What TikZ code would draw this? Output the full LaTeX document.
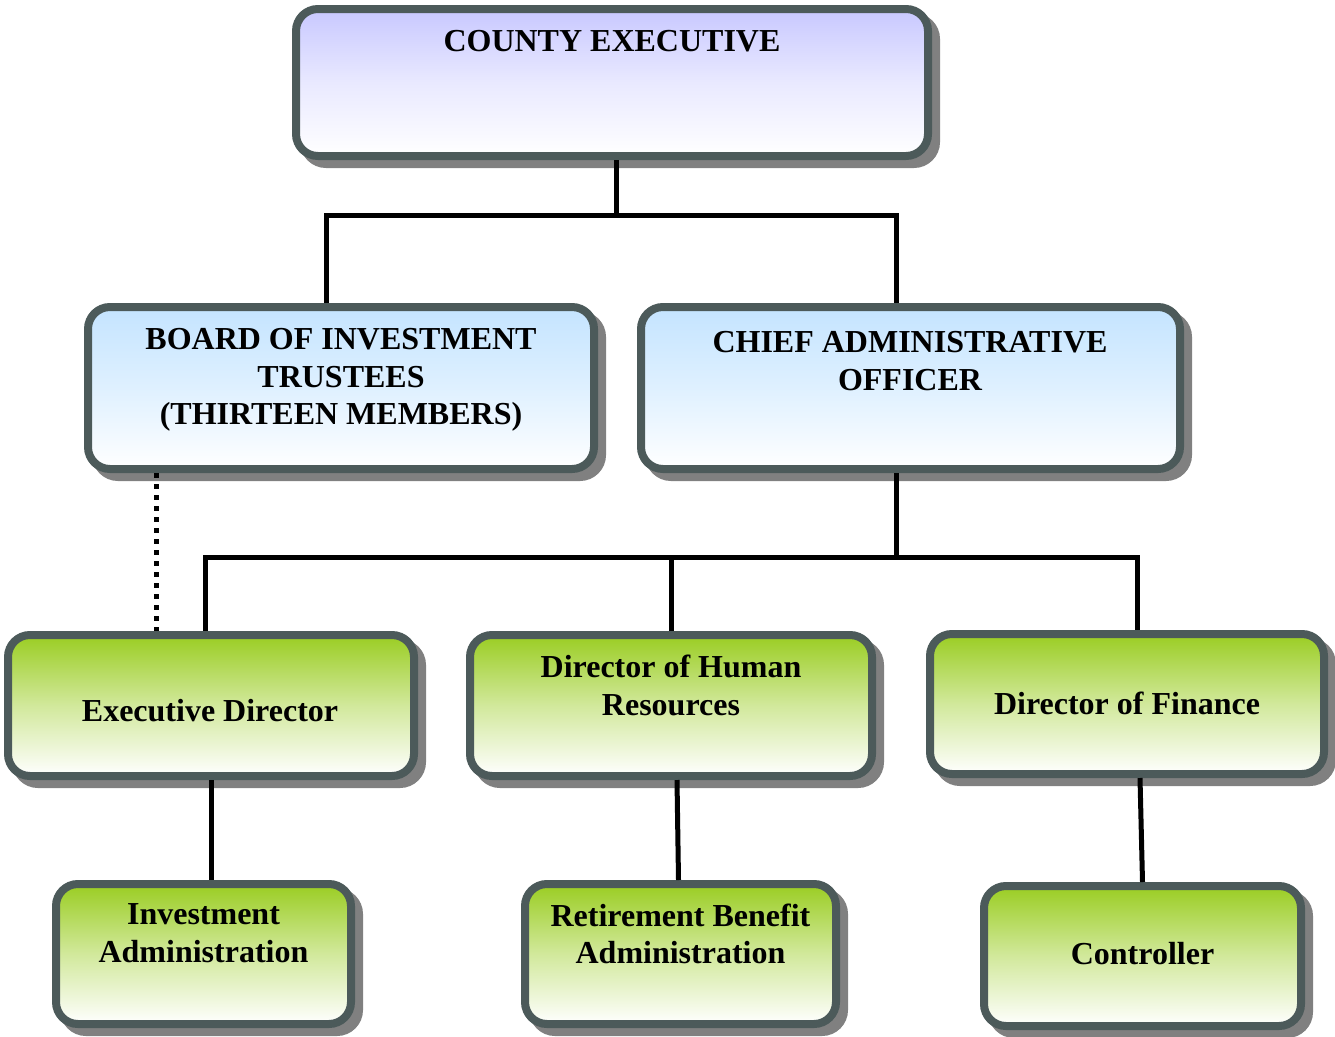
\documentclass[tikz,border=0pt]{standalone}
\usepackage{fontspec}
\setmainfont{Liberation Serif}
\usetikzlibrary{shadows,calc}
\definecolor{bordc}{HTML}{4C5A5A}
\definecolor{shadc}{HTML}{808080}
\definecolor{topblue}{HTML}{C8C8FF}
\definecolor{ltblue}{HTML}{C4E4FF}
\definecolor{topgreen}{HTML}{9ACD22}
\tikzset{
  box/.style={draw=bordc, line width=8pt, rounded corners=22pt, inner sep=0pt,
    drop shadow={shadow xshift=8pt, shadow yshift=-8pt, fill=shadc, draw=shadc, line width=8pt, opacity=1}},
  cebox/.style={box, top color=topblue, bottom color=white, middle color=topblue!40!white},
  bluebox/.style={box, top color=ltblue, bottom color=white, middle color=ltblue!55!white},
  greenbox/.style={box, top color=topgreen, bottom color=white, middle color=topgreen!45!white},
  txt/.style={font=\bfseries\fontsize{32}{37.5}\selectfont, align=center, inner sep=0pt},
  conn/.style={line width=5pt, black},
  dotconn/.style={line width=5pt, black, dash pattern=on 5pt off 6pt}
}
\begin{document}
\begin{tikzpicture}[x=1pt,y=-1pt]
\useasboundingbox (0,0) rectangle (1335,1036);
% boxes
\node[cebox, minimum width=632pt, minimum height=147pt] (ce) at (612,82.5) {};
\node[bluebox, minimum width=506pt, minimum height=162pt] (boi) at (341,388) {};
\node[bluebox, minimum width=539pt, minimum height=162pt] (cao) at (910.5,388) {};
\node[greenbox, minimum width=406pt, minimum height=141pt] (ed) at (211,705.5) {};
\node[greenbox, minimum width=402pt, minimum height=141pt] (hr) at (671,705.5) {};
\node[greenbox, minimum width=394pt, minimum height=140pt] (fin) at (1127,704) {};
\node[greenbox, minimum width=295pt, minimum height=140pt] (inv) at (203.5,954) {};
\node[greenbox, minimum width=311pt, minimum height=140pt] (ret) at (680.5,954) {};
\node[greenbox, minimum width=317pt, minimum height=140pt] (ctl) at (1142.5,956) {};
% texts
\node[txt] (tce) at ([yshift=-36pt]ce.north) {COUNTY EXECUTIVE};
\node[txt] (tboi) at ([yshift=8pt]boi.center) {BOARD OF INVESTMENT\\TRUSTEES\\(THIRTEEN MEMBERS)};
\node[txt] (tcao) at ([yshift=27pt,xshift=-0.5pt]cao.center) {CHIEF ADMINISTRATIVE\\OFFICER};
\node[txt] (ted) at ([yshift=-5pt,xshift=-1pt]ed.center) {Executive Director};
\node[txt] (thr) at ([yshift=20pt]hr.center) {Director of Human\\Resources};
\node[txt] (tfin) at ([yshift=1pt]fin.center) {Director of Finance};
\node[txt] (tinv) at ([yshift=21pt]inv.center) {Investment\\Administration};
\node[txt] (tret) at ([yshift=20pt]ret.center) {Retirement Benefit\\Administration};
\node[txt] (tctl) at ([yshift=2pt]ctl.center) {Controller};
% connectors
\coordinate (b1) at ($(ce.south)+(4,55)$);
\coordinate (b2) at ($(cao.south)+(-14.5,84)$);
\draw[conn] ([xshift=4pt]ce.south) -- (b1);
\draw[conn] ([xshift=-15pt]boi.north) |- (b1) -| ([xshift=-14.5pt]cao.north);
\draw[conn] ([xshift=-14.5pt]cao.south) -- (b2);
\draw[conn] ([xshift=-6pt]ed.north) |- (b2) -| ([xshift=10pt]fin.north);
\draw[conn] (hr.north) -- (hr.north |- b2);
\draw[dotconn] ([xshift=-185pt]boi.south) -- ([xshift=-55pt]ed.north);
\draw[conn] (ed.south) -- (inv.north -| ed.south);
\draw[conn] ([xshift=6pt]hr.south) -- ([xshift=-2pt]ret.north);
\draw[conn] ([xshift=13pt]fin.south) -- (ctl.north);
\end{tikzpicture}
\end{document}
